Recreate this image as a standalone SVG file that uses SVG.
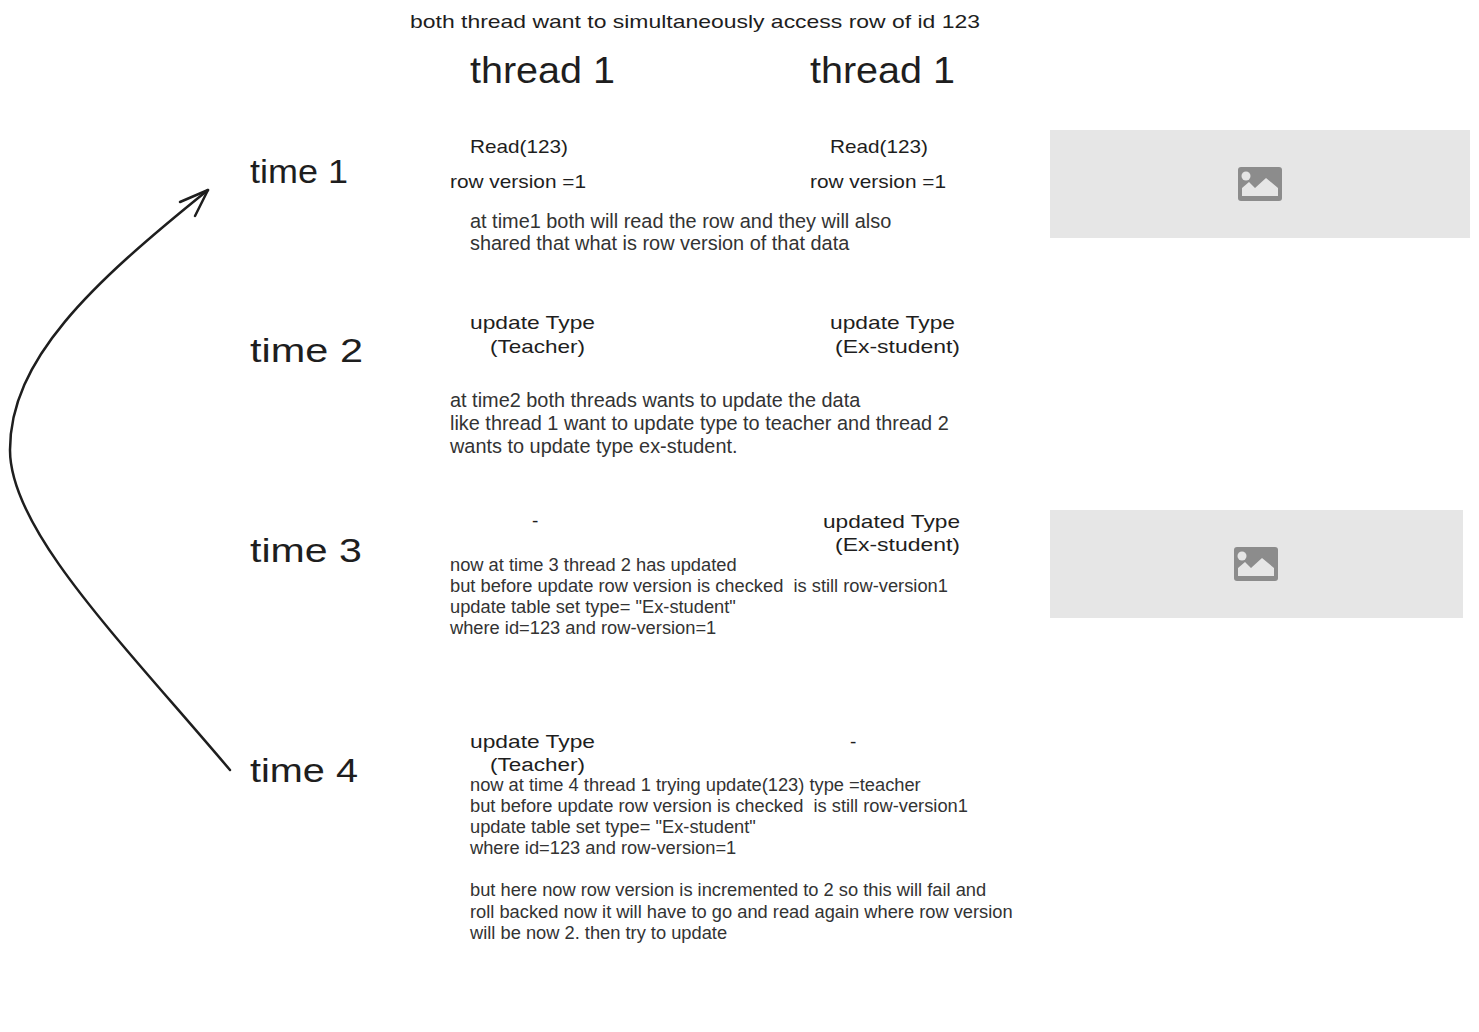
<svg xmlns="http://www.w3.org/2000/svg" width="1479" height="1032" viewBox="0 0 1479 1032">
<style>
.hw{font-family:"Liberation Sans","DejaVu Sans",sans-serif;fill:#1e1e1e}
.bd{font-family:"Liberation Sans",Arial,sans-serif;fill:#333333}
.b18{font-size:19.9px}
.b17{font-size:18.3px}
.ph{fill:#e6e6e6}
.ic{fill:#8c8c8c}
</style>
<defs>
<g id="imgicon">
<rect x="-22" y="-17" width="44" height="34" rx="3" class="ic"/>
<circle cx="-14" cy="-8" r="4.5" fill="#e6e6e6"/>
<path d="M-18,12 L-18,4 L-11,-2 L-5,4 L6,-6 L18,4 L18,12 Z" fill="#e6e6e6"/>
</g>
</defs>
<rect width="1479" height="1032" fill="#ffffff"/>

<g id="title"><text class="hw" x="410" y="28" font-size="19" textLength="570" lengthAdjust="spacingAndGlyphs">both thread want to simultaneously access row of id 123</text></g>
<g id="thread1-left"><text class="hw" x="470" y="83" font-size="36" textLength="145" lengthAdjust="spacingAndGlyphs">thread 1</text></g>
<g id="thread1-right"><text class="hw" x="810" y="83" font-size="36" textLength="145" lengthAdjust="spacingAndGlyphs">thread 1</text></g>

<g id="time1"><text class="hw" x="250" y="183" font-size="33" textLength="98" lengthAdjust="spacingAndGlyphs">time 1</text></g>
<g id="time2"><text class="hw" x="250" y="362" font-size="33" textLength="113" lengthAdjust="spacingAndGlyphs">time 2</text></g>
<g id="time3"><text class="hw" x="250" y="562" font-size="33" textLength="112" lengthAdjust="spacingAndGlyphs">time 3</text></g>
<g id="time4"><text class="hw" x="250" y="782" font-size="33" textLength="108" lengthAdjust="spacingAndGlyphs">time 4</text></g>

<g id="t1-read-left"><text class="hw" x="470" y="153" font-size="19" textLength="98" lengthAdjust="spacingAndGlyphs">Read(123)</text>
<text class="hw" x="450" y="188" font-size="19" textLength="136" lengthAdjust="spacingAndGlyphs">row version =1</text></g>
<g id="t1-read-right"><text class="hw" x="830" y="153" font-size="19" textLength="98" lengthAdjust="spacingAndGlyphs">Read(123)</text>
<text class="hw" x="810" y="188" font-size="19" textLength="136" lengthAdjust="spacingAndGlyphs">row version =1</text></g>
<g id="t1-note"><text class="bd b18" x="470" y="228">at time1 both will read the row and they will also</text>
<text class="bd b18" x="470" y="250">shared that what is row version of that data</text></g>

<g id="t2-left"><text class="hw" x="470" y="329" font-size="19" textLength="125" lengthAdjust="spacingAndGlyphs">update Type</text>
<text class="hw" x="490" y="353" font-size="19" textLength="95" lengthAdjust="spacingAndGlyphs">(Teacher)</text></g>
<g id="t2-right"><text class="hw" x="830" y="329" font-size="19" textLength="125" lengthAdjust="spacingAndGlyphs">update Type</text>
<text class="hw" x="835" y="353" font-size="19" textLength="125" lengthAdjust="spacingAndGlyphs">(Ex-student)</text></g>
<g id="t2-note"><text class="bd b18" x="450" y="407">at time2 both threads wants to update the data</text>
<text class="bd b18" x="450" y="430">like thread 1 want to update type to teacher and thread 2</text>
<text class="bd b18" x="450" y="453">wants to update type ex-student.</text></g>

<g id="t3-left"><text class="hw" x="532" y="527" font-size="19">-</text></g>
<g id="t3-right"><text class="hw" x="823" y="528" font-size="19" textLength="137" lengthAdjust="spacingAndGlyphs">updated Type</text>
<text class="hw" x="835" y="551" font-size="18" textLength="125" lengthAdjust="spacingAndGlyphs">(Ex-student)</text></g>
<g id="t3-note"><text class="bd b17" x="450" y="571">now at time 3 thread 2 has updated</text>
<text class="bd b17" x="450" y="592" xml:space="preserve">but before update row version is checked  is still row-version1</text>
<text class="bd b17" x="450" y="613">update table set type= "Ex-student"</text>
<text class="bd b17" x="450" y="634">where id=123 and row-version=1</text></g>

<g id="t4-left"><text class="hw" x="470" y="748" font-size="19" textLength="125" lengthAdjust="spacingAndGlyphs">update Type</text>
<text class="hw" x="490" y="771" font-size="18" textLength="95" lengthAdjust="spacingAndGlyphs">(Teacher)</text></g>
<g id="t4-right"><text class="hw" x="850" y="748" font-size="19">-</text></g>
<g id="t4-note"><text class="bd b17" x="470" y="791">now at time 4 thread 1 trying update(123) type =teacher</text>
<text class="bd b17" x="470" y="812" xml:space="preserve">but before update row version is checked  is still row-version1</text>
<text class="bd b17" x="470" y="833">update table set type= "Ex-student"</text>
<text class="bd b17" x="470" y="854">where id=123 and row-version=1</text>
<text class="bd b17" x="470" y="896">but here now row version is incremented to 2 so this will fail and</text>
<text class="bd b17" x="470" y="918">roll backed now it will have to go and read again where row version</text>
<text class="bd b17" x="470" y="939">will be now 2. then try to update</text></g>

<g id="image1"><rect class="ph" x="1050" y="130" width="420" height="108"/><use href="#imgicon" x="1260" y="184"/></g>
<g id="image2"><rect class="ph" x="1050" y="510" width="413" height="108"/><use href="#imgicon" x="1256" y="564"/></g>

<g id="connectors" fill="none" stroke="#1e1e1e" stroke-width="2.5" stroke-linecap="round" stroke-linejoin="round">
<path d="M230,770 C120,640 10,530 10,450 C10,360 90,285 208,190"/>
<path d="M180,202 L208,190 L195,216"/>
</g>
</svg>
